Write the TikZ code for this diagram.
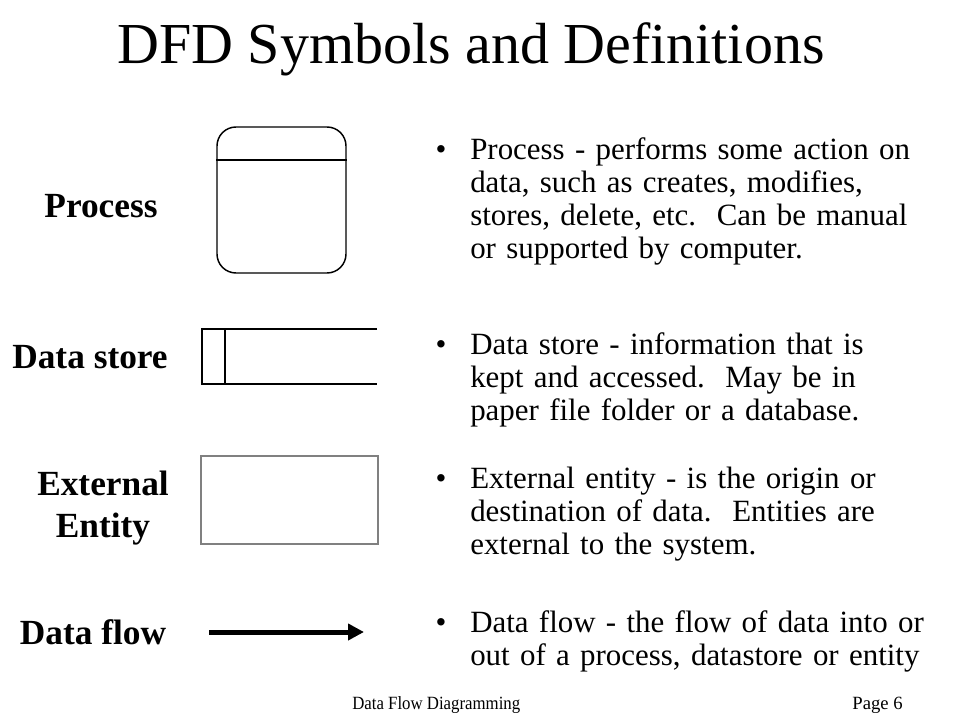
\documentclass[tikz,border=0pt]{standalone}
\usepackage{fontspec}
\setmainfont{Liberation Serif}
\usetikzlibrary{arrows.meta}
\newdimen\pxu \pxu=0.75pt

\tikzset{
  sym/.style={draw=black, line width=1.1pt},
  symname/.style={font=\fontsize{26.5}{32}\selectfont\bfseries, align=center, inner sep=0},
  defn/.style={anchor=base west, inner sep=0, text width=480\pxu, align=left,
    font=\fontsize{23.2}{24.75}\selectfont},
  bul/.style={anchor=base, inner sep=0, font=\fontsize{23.2}{24.75}\selectfont},
  foottext/.style={inner sep=0, font=\fontsize{14}{16}\selectfont},
}

\begin{document}
\begin{tikzpicture}[x=0.75pt,y=-0.75pt]
\useasboundingbox (0,0) rectangle (960,720);
\node[font=\fontsize{43.5}{48}\selectfont, anchor=base] (title) at (471,64) {DFD Symbols and Definitions};

% symbol names
\node[symname] (procname) at (101,206) {Process};
\node[symname] (storename) at (90,357) {Data store};
\node[symname] (entityname) at (103,508) {External\\Entity};
\node[symname] (flowname) at (93,632) {Data flow};

% symbols
\node[sym, rounded corners=19\pxu, minimum width=129\pxu, minimum height=146\pxu, inner sep=0] (proc) at (281.5,200) {};
\draw[sym] (proc.west |- 0,160) -- (proc.east |- 0,160);
\draw[sym] (377,329) -- (202,329) -- (202,384) -- (377,384);
\draw[sym] (225,329) -- (225,384);
\node[sym, draw=black!50, minimum width=177\pxu, minimum height=88\pxu, inner sep=0] (entity) at (289.5,500) {};
\coordinate (flowA) at (209,632);
\coordinate (flowB) at (364,632);
\draw[line width=3.75pt, -{Triangle[length=12pt,width=12pt]}] (flowA) -- (flowB);

% definitions
\node[bul] (procbul) at (441,160) {•};
\node[defn] (procdef) at (470,160) {Process - performs some action on\\
  data, such as creates, modifies,\\ stores, delete, etc.\ \ Can be manual\\ or supported by computer.};
\node[bul] (storebul) at (441,354) {•};
\node[defn] (storedef) at (470,354) {Data store - information that is\\
  kept and accessed.\ \ May be in\\ paper file folder or a database.};
\node[bul] (entitybul) at (441,488) {•};
\node[defn] (entitydef) at (470,488) {External entity - is the origin or\\
  destination of data.\ \ Entities are\\ external to the system.};
\node[bul] (flowbul) at (441,632) {•};
\node[defn] (flowdef) at (470,632) {Data flow - the flow of data into or\\
  out of a process, datastore or entity};

% footer
\node[foottext, anchor=base west] (foot) at (352,709) {\scalebox{0.9}[1]{Data Flow Diagramming}};
\node[foottext, anchor=base east] (page) at (903,709) {Page 6};
\end{tikzpicture}
\end{document}
